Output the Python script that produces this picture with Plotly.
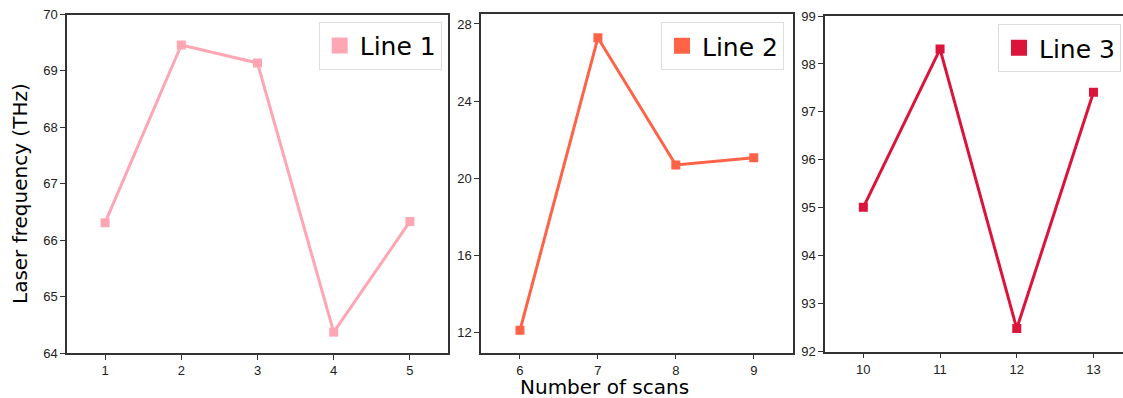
import plotly.graph_objects as go

# Data
x1 = [1, 2, 3, 4, 5]
y1 = [66.31, 69.46, 69.14, 64.37, 66.33]
x2 = [6, 7, 8, 9]
y2 = [12.12, 27.28, 20.69, 21.07]
x3 = [10, 11, 12, 13]
y3 = [95.01, 98.31, 92.48, 97.41]
names = ["Line 1", "Line 2", "Line 3"]
colors = ["#FFA6B4", "#FF6347", "#DC143C"]
y1_ticks = [64, 65, 66, 67, 68, 69, 70]
y2_ticks = [12, 16, 20, 24, 28]
y3_ticks = [92, 93, 94, 95, 96, 97, 98, 99]

W, H = 1123, 398
fig = go.Figure()

series = [(x1, y1), (x2, y2), (x3, y3)]
for i, ((xs, ys), nm, c) in enumerate(zip(series, names, colors), start=1):
    suffix = "" if i == 1 else str(i)
    fig.add_trace(go.Scatter(
        x=xs, y=ys, mode="lines+markers", name=nm, showlegend=False,
        line=dict(color=c, width=3),
        marker=dict(symbol="square", size=9, color=c),
        xaxis="x" + suffix, yaxis="y" + suffix))
    fig.add_trace(go.Scatter(
        x=[None], y=[None], mode="markers", name=nm, showlegend=True,
        marker=dict(symbol="square", size=16, color=c),
        xaxis="x" + suffix, yaxis="y" + suffix,
        legend="legend" if i == 1 else "legend" + str(i)))

axis_common = dict(showline=True, linecolor="#333333", linewidth=1.5,
                   ticks="outside", ticklen=5, tickwidth=1.2, tickcolor="#333333",
                   showgrid=False, zeroline=False, automargin=False,
                   tickfont=dict(family="Liberation Sans, Arial", size=13, color="#222222"))

def px(v):
    return v / W

def py(v):
    return 1 - v / H

fig.update_layout(
    width=W, height=H, margin=dict(l=0, r=0, t=0, b=0, autoexpand=False),
    paper_bgcolor="white", plot_bgcolor="white",
    xaxis=dict(domain=[px(67), px(448)], range=[0.5, 5.5], tickvals=x1, anchor="y",
               mirror=True, **axis_common),
    yaxis=dict(domain=[py(353), py(14.5)], range=[64, 70], tickvals=y1_ticks, anchor="x",
               mirror=True, **axis_common),
    xaxis2=dict(domain=[px(481), px(792.7)], range=[5.5, 9.5], tickvals=x2, anchor="y2",
                mirror=True, **axis_common),
    yaxis2=dict(domain=[py(352.7), py(14.3)], range=[10.96, 28.5], tickvals=y2_ticks, anchor="x2",
                mirror=True, **axis_common),
    xaxis3=dict(domain=[px(825), 1.0], range=[9.5, 13.385], tickvals=x3, anchor="y3",
                mirror=True, **axis_common),
    yaxis3=dict(domain=[py(351.6), py(16)], range=[92, 99], tickvals=y3_ticks, anchor="x3",
                mirror=False, **axis_common),
)

legend_common = dict(font=dict(family="DejaVu Sans", size=25, color="black"),
                     bgcolor="white", bordercolor="#dddddd", borderwidth=1,
                     yanchor="top", itemsizing="trace")
fig.update_layout(
    legend=dict(x=px(441.7), xanchor="right", y=py(21.7), **legend_common),
    legend2=dict(x=px(784), xanchor="right", y=py(22), **legend_common),
    legend3=dict(x=px(998), xanchor="left", y=py(24), **legend_common),
)

fig.add_annotation(text="Laser frequency (THz)", x=px(20), y=py(194), xref="paper", yref="paper",
                   textangle=-90, showarrow=False, xanchor="center", yanchor="middle",
                   font=dict(family="DejaVu Sans", size=20, color="black"))
fig.add_annotation(text="Number of scans", x=px(604), y=0, xref="paper", yref="paper",
                   showarrow=False, xanchor="center", yanchor="bottom", yshift=-2,
                   borderpad=0,
                   font=dict(family="DejaVu Sans", size=20, color="black"))

fig.write_html("out.html")
